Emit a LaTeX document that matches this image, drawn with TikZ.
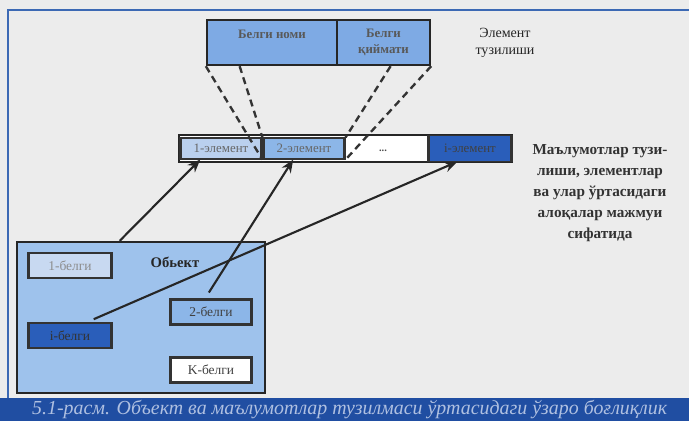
\documentclass[tikz,border=0pt]{standalone}
\usepackage{fontspec}
\setmainfont{Liberation Serif}
\usepackage{xcolor}
\usetikzlibrary{calc,arrows.meta}
\definecolor{paper}{RGB}{236,236,236}
\definecolor{frameblue}{RGB}{60,105,180}
\definecolor{bandblue}{RGB}{32,78,162}
\definecolor{capfg}{RGB}{175,192,225}
\definecolor{objblue}{RGB}{158,194,236}
\definecolor{topblue}{RGB}{126,170,228}
\definecolor{paleblue}{RGB}{186,208,238}
\definecolor{midblue}{RGB}{140,182,232}
\definecolor{deepblue}{RGB}{42,94,186}

\begin{document}
\begin{tikzpicture}[x=0.3mm, y=-0.3mm,
  tbox/.style={draw=black!85, line width=2pt, fill=topblue, minimum height=13.5mm,
    align=center, text=black!65, font=\fontsize{11}{13}\selectfont\bfseries},
  cell/.style={draw=black!80, line width=1pt, minimum width=24.6mm, minimum height=6.3mm,
    inner sep=1pt, font=\fontsize{11}{12}\selectfont,
    path picture={\draw[line width=3pt, black!80]
      (path picture bounding box.north west) -- (path picture bounding box.south west)
      (path picture bounding box.north east) -- (path picture bounding box.south east);}},
  belgi/.style={cell, line width=2pt, minimum height=7.4mm, font=\fontsize{11.5}{12}\selectfont},
  arrow/.style={-{Stealth[length=11pt,width=9pt]}, line width=1.8pt, black!85},
  guide/.style={line width=2pt, black!80, dash pattern=on 6pt off 4pt}
]
\useasboundingbox (0,0) rectangle (689,421);
\fill[paper] (0,0) rectangle (689,421);

% Frame and caption band
\draw[frameblue, line width=2pt] (8,398) -- (8,10) -- (689,10);
\fill[bandblue] (0,398) rectangle (689,421);
\node[text=capfg, font=\fontsize{17}{18}\selectfont\itshape, anchor=west] (caption) at (28,410)
  {5.1-расм. Объект ва маълумотлар тузилмаси ўртасидаги ўзаро боғлиқлик};

% Element structure (top)
\node[tbox, minimum width=39mm] (tb-name) at (272,42.5) {Белги номи\\[1pt]\mbox{}};
\node[tbox, minimum width=27.9mm] (tb-value) at (383.5,42.5) {Белги\\[1pt]қиймати};
\node[font=\fontsize{12}{15}\selectfont, align=center, text=black!85] (tb-label) at (505,43)
  {Элемент\\тузилиши};

% Data structure row
\node[draw=black!85, line width=2pt, fill=white, minimum width=99.9mm, minimum height=8.1mm] (bar) at (345.5,148.5) {};
\node[cell, fill=paleblue, text=black!60] (el-1) at (221,148.5) {1-элемент};
\node[cell, fill=midblue, text=black!60] (el-2) at (304,148.5) {2-элемент};
\node[font=\small\bfseries, text=black!70] (el-dots) at (383,151) {...};
\node[cell, fill=deepblue, minimum width=25.2mm, minimum height=7.6mm, text=black!75] (el-i) at (470,148.5) {i-элемент};
\node[font=\fontsize{13}{18}\selectfont\bfseries, align=center, text=black!80] (el-label) at (600,193)
  {Маълумотлар тузи-\\лиши, элементлар\\ва улар ўртасидаги\\алоқалар мажмуи\\сифатида};

% Dashed guides from element structure to the second element
\draw[guide] (tb-name.south west) -- (el-2.south west);
\draw[guide] ($(tb-name.south west)!0.15!(tb-value.south east)$) -- (el-2.north west);
\draw[guide] ($(tb-name.south west)!0.82!(tb-value.south east)$) -- (el-2.north east);
\draw[guide] (tb-value.south east) -- (el-2.south east);

% Object with its attributes
\node[draw=black!85, line width=2pt, fill=objblue, minimum width=74.4mm, minimum height=45.3mm] (obj) at (141,317.5) {};
\node[font=\fontsize{12.5}{14}\selectfont\bfseries, text=black!85] (obj-label) at (175,262) {Обьект};
\node[belgi, fill=paleblue!80!white, minimum width=25.2mm, text=black!45] (bg-1) at (70,265.5) {1-белги};
\node[belgi, fill=midblue, text=black!75] (bg-2) at (211,312) {2-белги};
\node[belgi, fill=deepblue, minimum width=25.2mm, text=black!80] (bg-i) at (70,335.5) {i-белги};
\node[belgi, fill=white, text=black!75] (bg-k) at (211,370) {K-белги};

% Links object -> elements
\draw[arrow] ($(obj.north west)!0.415!(obj.north east)$) -- ($(el-1.south west)!0.25!(el-1.south east)$);
\draw[arrow, shorten <=6pt] ($(bg-2.north west)!0.43!(bg-2.north east)$) -- ($(el-2.south west)!0.37!(el-2.south east)$);
\draw[arrow, shorten <=6pt] ($(bg-i.north west)!0.7!(bg-i.north east)$) -- ($(el-i.south west)!0.35!(el-i.south east)$);
\end{tikzpicture}
\end{document}
